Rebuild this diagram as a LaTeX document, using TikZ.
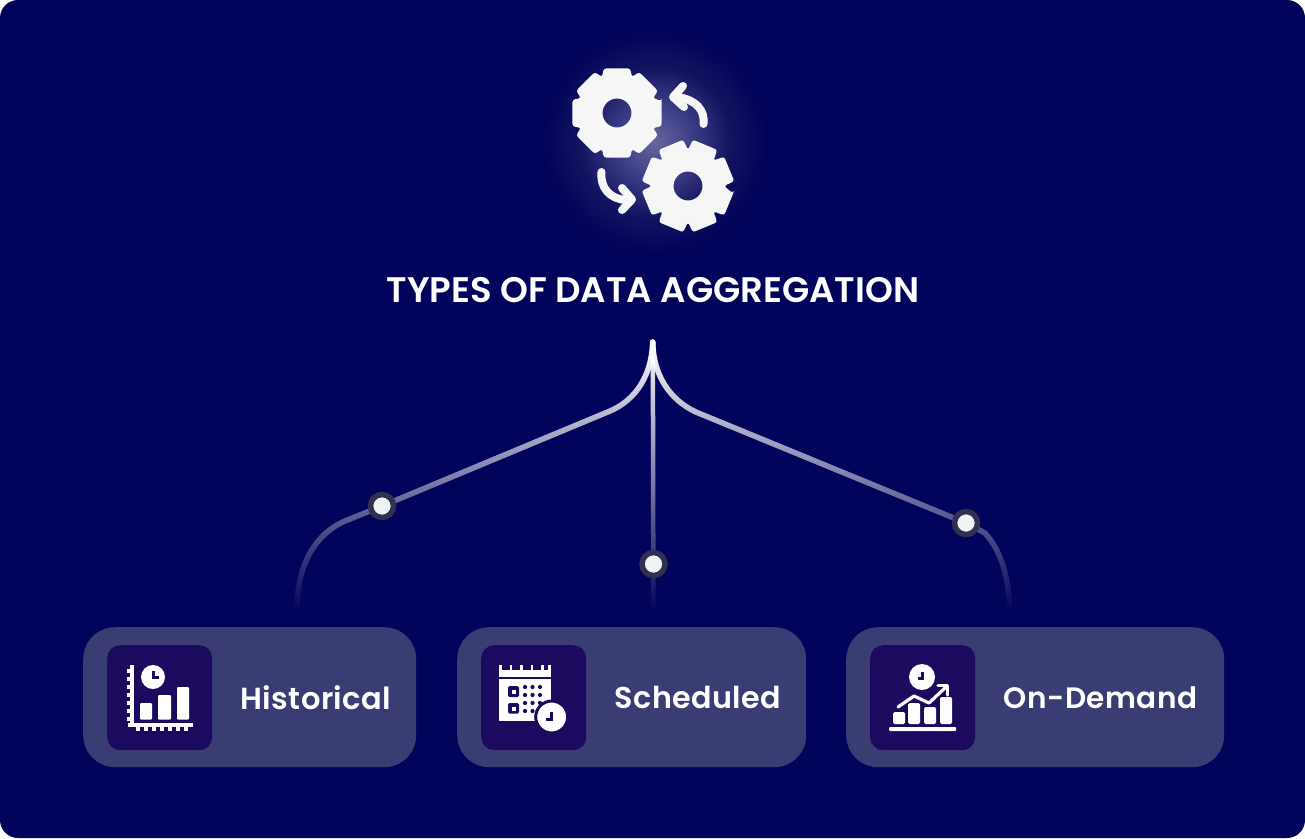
\documentclass[tikz,border=0pt]{standalone}
\usepackage{fontspec}
\setmainfont{Poppins}
\newfontfamily\titlefont{Poppins SemiBold}
\newfontfamily\cardfont[LetterSpace=1.5]{Poppins SemiBold}
\usetikzlibrary{fadings,calc}
\definecolor{bg}{HTML}{02035A}
\definecolor{cardc}{HTML}{3A3C74}
\definecolor{iconbg}{HTML}{1C0A5E}
\definecolor{glowa}{HTML}{66669E}
\definecolor{glowb}{HTML}{3A3A84}
\definecolor{glowc}{HTML}{12135F}
\definecolor{gearc}{HTML}{F6F6F6}
\definecolor{dotring}{HTML}{303150}
\definecolor{dotfill}{HTML}{EEF3F4}
\pgfdeclareradialshading{glowshade}{\pgfpointorigin}{color(0bp)=(glowa); color(9bp)=(glowb); color(17bp)=(glowc); color(25bp)=(bg); color(50bp)=(bg)}
\tikzfading[name=fadedown, top color=transparent!0, bottom color=transparent!100]
\tikzset{
  card/.style={draw=none, fill=cardc, rounded corners=32pt, minimum height=140pt, inner sep=0pt, anchor=north west},
  iconbox/.style={draw=none, fill=iconbg, rounded corners=13pt, minimum width=105pt, minimum height=105pt, inner sep=0pt, anchor=north west},
  cardtext/.style={text=white, inner sep=0pt, font=\cardfont\fontsize{#1}{32}\selectfont},
  branch/.style={draw=white, line width=5.5pt, line cap=round, path fading=fadedown},
  joint/.style={circle, draw=dotring, fill=dotfill, line width=5.5pt, inner sep=0pt, minimum size=23pt},
  gearfill/.style={fill=gearc, even odd rule, rounded corners=2.5pt},
  turn/.style={draw=gearc, line width=8pt, line cap=round, line join=round},
  ink/.style={fill=white, draw=none},
  navy/.style={fill=iconbg, draw=none}
}
\begin{document}
\begin{tikzpicture}[x=1pt,y=-1pt]
\useasboundingbox (0,0) rectangle (1305,838);
\fill[white] (0,0) rectangle (1305,838);
\fill[bg, rounded corners=18pt] (0,0) rectangle (1305,838);

% glow
\shade[shading=glowshade] (655,142) circle (112);

% gears
\begin{scope}[shift={(617,113)}]
  \fill[gearfill] (-15:46) \foreach \a in {0,45,...,315} { -- (\a-16.5:46.5) -- (\a+16.5:46.5) -- (\a+22.5:39) } -- cycle
    (0,0) circle (14.5);
\end{scope}
\begin{scope}[shift={(688,186)}]
  \fill[gearfill] (9:45) \foreach \a in {22.5,67.5,...,337.5} { -- (\a-16.5:46.5) -- (\a+16.5:46.5) -- (\a+22.5:36) } -- cycle
    (0,0) circle (14.5);
\end{scope}
% turning arrows
\draw[turn] (703.5,124) .. controls (705,110) and (696,100) .. (678,97);
\draw[turn] (683,86) -- (673,97) -- (684,107);
\draw[turn] (601.5,172) .. controls (600,188) and (610,199) .. (626,200);
\draw[turn] (622,188) -- (632,199.5) -- (622,210);

% title
\node[text=white, inner sep=0pt, font=\titlefont\fontsize{35.5}{38}\selectfont] (title) at (653,290) {TYPES OF DATA AGGREGATION};

% connector anchors
\coordinate (root) at (652.8,342);
\coordinate (endl) at (297,610);
\coordinate (endm) at (653.4,610);
\coordinate (endr) at (1009.5,610);
\coordinate (dl) at (382,506);
\coordinate (dm) at (653.5,564);
\coordinate (dr) at (966,523);

\draw[branch] (root) .. controls (652,375) and (636,400) .. (610,411) -- (dl) -- (345,521) .. controls (315,534) and (297,565) .. (endl);
\draw[branch] (root) .. controls (653,375) and (670,400) .. (696,412) -- (dr) -- (985,533) .. controls (1000,550) and (1009,575) .. (endr);
\draw[branch, line width=4.5pt] (root) -- (653,420) -- (endm);

\node[joint] (jl) at (dl) {};
\node[joint] (jm) at (dm) {};
\node[joint] (jr) at (dr) {};

% cards
\node[card, minimum width=333pt] (c1) at (83,627) {};
\node[card, minimum width=349pt] (c2) at (457,627) {};
\node[card, minimum width=378pt] (c3) at (846,627) {};
\node[iconbox] (i1) at (107,645) {};
\node[iconbox] (i2) at (481,645) {};
\node[iconbox] (i3) at (870,645) {};
\node[cardtext=30.5] (t1) at (316,697.5) {Historical};
\node[cardtext=30.2] (t2) at (698,697.5) {Scheduled};
\node[cardtext=29.5] (t3) at (1100.5,697.5) {On-Demand};

% icon: Historical
\fill[ink] (129.5,665) rectangle (134,727);
\fill[ink] (128,722.5) rectangle (193,727);
\foreach \y in {669,677,...,717} \fill[ink] (127,\y) rectangle (131,\y+4);
\foreach \x in {136,144,...,184} \fill[ink] (\x,726) rectangle (\x+4,731);
\fill[ink, rounded corners=1pt] (140,703) rectangle (152,719.5);
\fill[ink, rounded corners=1pt] (158,695) rectangle (171,719.5);
\fill[ink, rounded corners=1pt] (177,687) rectangle (189,719.5);
\fill[ink] (153,677) circle (12);
\fill[navy] (151.5,671) rectangle (154.5,679);
\fill[navy] (151.5,676) rectangle (159,679);

% icon: Scheduled
\fill[ink] (499,670) rectangle (551,677);
\foreach \x in {499,509.5,520,530.5,541,548.4} \fill[ink] (\x,665) rectangle (\x+2.6,671);
\fill[ink] (499,679) rectangle (551,721);
\fill[navy, rounded corners=1.5pt] (508,686) rectangle (519,697);
\fill[ink] (511.5,689.5) rectangle (515.5,693.5);
\fill[navy, rounded corners=1.5pt] (508,703) rectangle (519,713.5);
\fill[ink] (511.5,706.5) rectangle (515.5,710.5);
\foreach \x in {525,532.5,540} \foreach \y in {687,695,703} \fill[navy] (\x,\y) circle (2.1);
\foreach \x in {525,532.5} \fill[navy] (\x,711) circle (2.1);
\fill[ink, draw=iconbg, line width=3pt] (551.7,717) circle (16);
\fill[navy] (549.5,712) rectangle (552.5,720.5);
\fill[navy] (546,717.5) rectangle (552.5,720.5);

% icon: On-Demand
\fill[ink, rounded corners=1pt] (889,727) rectangle (956,731);
\fill[ink, rounded corners=1.5pt] (893,712) rectangle (905,724);
\fill[ink, rounded corners=1.5pt] (908,703) rectangle (920,724);
\fill[ink, rounded corners=1.5pt] (924,707) rectangle (936,724);
\fill[ink, rounded corners=1.5pt] (940,697) rectangle (952,724);
\draw[iconbg, line width=6.5pt, line join=round] (898,707) -- (914,696) -- (929,703) -- (947,686);
\draw[white, line width=3.2pt, line cap=round, line join=round] (898,707) -- (914,696) -- (929,703) -- (947,686);
\draw[white, line width=3.2pt, line cap=round, line join=round] (938,685.5) -- (947.5,685.5) -- (947.5,695);
\fill[ink] (922,677) circle (13);
\fill[navy] (920.5,672) rectangle (923.5,680);
\fill[navy] (917.5,677) rectangle (923.5,680);
\end{tikzpicture}
\end{document}
